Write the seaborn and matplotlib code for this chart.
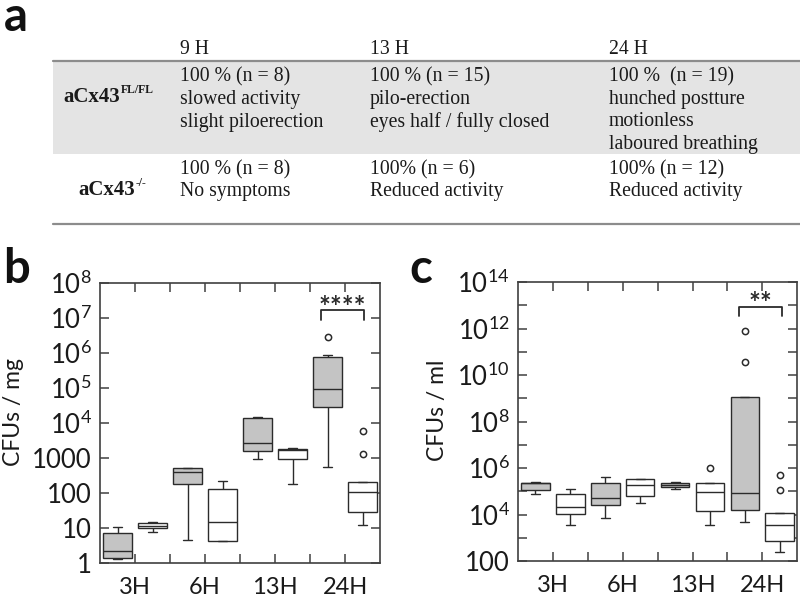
import pandas as pd
import seaborn as sns
import matplotlib.pyplot as plt
from matplotlib.ticker import FixedLocator, FixedFormatter, NullLocator, NullFormatter

# ---- panel a: symptom table ----
col_headers = ["9 H", "13 H", "24 H"]
fl_cells = [["100 % (n = 8)", "slowed activity", "slight piloerection"],
            ["100 % (n = 15)", "pilo-erection", "eyes half / fully closed"],
            ["100 %  (n = 19)", "hunched postture", "motionless", "laboured breathing"]]
ko_cells = [["100 % (n = 8)", "No symptoms"],
            ["100% (n = 6)", "Reduced activity"],
            ["100% (n = 12)", "Reduced activity"]]
row_names = ["aCx43", "aCx43"]
row_sups = ["FL/FL", "-/-"]

# ---- panels b / c: CFU counts per group ----
times = ["3H", "6H", "13H", "24H"]
genotypes = ["FL/FL", "-/-"]

# b: CFUs / mg
mg_fl_3h = [1.3, 1.36, 2.25, 7.06, 10.9]
mg_ko_3h = [7.8, 9.7, 11.5, 13.6, 14.5]
mg_fl_6h = [4.5, 181, 398, 508, 512]
mg_ko_6h = [4.3, 4.3, 14.8, 128, 225]
mg_fl_13h = [918, 1585, 2630, 13600, 14500]
mg_ko_13h = [177, 918, 1700, 1808, 1900]
mg_fl_24h = [542, 8000, 29200, 50000, 93600, 300000, 784000, 877000, 2920000]
mg_ko_24h = [11.9, 20, 28.7, 60, 107, 160, 210, 1300, 6030]

# c: CFUs / ml
ml_fl_3h = [74000, 113000, 220000, 235000, 250000]
ml_ko_3h = [3680, 10900, 21900, 74000, 121000]
ml_fl_6h = [7070, 25600, 53300, 235000, 410000]
ml_ko_6h = [32500, 62500, 193000, 327000, 330000]
ml_fl_13h = [130000, 152000, 193000, 235000, 250000]
ml_ko_13h = [3430, 13700, 96600, 220000, 1040000]
ml_fl_24h = [4760, 9000, 15600, 40000, 87500, 1e6, 1.1e9, 3.77e10, 7.8e11]
ml_ko_24h = [254, 500, 754, 2000, 3680, 7000, 11300, 110000, 500000]

mg_ticks = [1, 10, 100, 1000, 1e4, 1e5, 1e6, 1e7, 1e8]
mg_tick_labels = ["1", "10", "100", "1000", r"$10^4$", r"$10^5$", r"$10^6$", r"$10^7$", r"$10^8$"]
ml_ticks = [1e2, 1e4, 1e6, 1e8, 1e10, 1e12, 1e14]
ml_tick_labels = ["100", r"$10^4$", r"$10^6$", r"$10^8$", r"$10^{10}$", r"$10^{12}$", r"$10^{14}$"]
ml_minor = [1e3, 1e5, 1e7, 1e9, 1e11, 1e13]


def long_table(groups):
    rows = [(t, g, v) for t, g, vals in groups for v in vals]
    return pd.DataFrame(rows, columns=["time", "genotype", "cfu"])


df_mg = long_table([("3H", "FL/FL", mg_fl_3h), ("3H", "-/-", mg_ko_3h),
                    ("6H", "FL/FL", mg_fl_6h), ("6H", "-/-", mg_ko_6h),
                    ("13H", "FL/FL", mg_fl_13h), ("13H", "-/-", mg_ko_13h),
                    ("24H", "FL/FL", mg_fl_24h), ("24H", "-/-", mg_ko_24h)])
df_ml = long_table([("3H", "FL/FL", ml_fl_3h), ("3H", "-/-", ml_ko_3h),
                    ("6H", "FL/FL", ml_fl_6h), ("6H", "-/-", ml_ko_6h),
                    ("13H", "FL/FL", ml_fl_13h), ("13H", "-/-", ml_ko_13h),
                    ("24H", "FL/FL", ml_fl_24h), ("24H", "-/-", ml_ko_24h)])

sns.set_style("ticks")
plt.rcParams["font.family"] = ["Lato", "DejaVu Sans"]
plt.rcParams["mathtext.default"] = "regular"

edge = "#2b2b2b"
ink = "#1a1a1a"
fig = plt.figure(figsize=(8, 5.97), dpi=100)

# background axes in pixel coords for the table and panel letters
ax_a = fig.add_axes([0, 0, 1, 1], zorder=-1)
ax_a.set_xlim(0, 800)
ax_a.set_ylim(597, 0)
ax_a.axis("off")
ax_a.patch.set_visible(False)

ax_a.add_patch(plt.Rectangle((53, 61), 747, 93, color="#e4e4e4", lw=0))
ax_a.plot([53, 800], [61, 61], color="#8c8c8c", lw=1.6)
ax_a.plot([53, 800], [224, 224], color="#8c8c8c", lw=1.6)

serif = dict(family="Liberation Serif", fontsize=14.2, color=ink, va="baseline")
col_x = [180, 370, 609]
for x, head, fl, ko in zip(col_x, col_headers, fl_cells, ko_cells):
    ax_a.text(x, 54, head, **serif)
    for i, line in enumerate(fl):
        ax_a.text(x, 81.5 + i * 22.5, line, **serif)
    for i, line in enumerate(ko):
        ax_a.text(x, 174 + i * 22, line, **serif)

for (x, y), name, sup in zip([(63, 101.5), (78, 195)], row_names, row_sups):
    t = ax_a.text(x, y, name, family="Liberation Serif", fontsize=15, fontweight="bold",
                  va="baseline", color=ink)
    ax_a.annotate(sup, xy=(1.0, 0.0), xycoords=t, xytext=(0.5, 9.8), textcoords="offset points",
                  family="Liberation Serif", fontsize=8.5, fontweight="bold",
                  ha="left", va="baseline", color=ink)

for x, y, letter in [(4, 31, "a"), (3, 283, "b"), (409, 283, "c")]:
    ax_a.text(x, y, letter, fontsize=34, fontweight="bold", va="baseline", color="#111111")

box_kw = dict(x="time", y="cfu", hue="genotype", order=times, hue_order=genotypes,
              palette={"FL/FL": "#c4c4c4", "-/-": "white"}, saturation=1,
              width=1.0, gap=0.18, linecolor=edge, linewidth=1.0, legend=False,
              capwidths=0.13,
              flierprops=dict(marker="o", markerfacecolor="white", markeredgecolor=edge,
                              markersize=4.5, markeredgewidth=1.1))

ax_b = fig.add_axes([0.125, 0.057, 0.35, 0.469])
ax_c = fig.add_axes([0.6475, 0.0603, 0.349, 0.4673])
sns.boxplot(data=df_mg, ax=ax_b, **box_kw)
sns.boxplot(data=df_ml, ax=ax_c, **box_kw)


def style_axis(ax, ylim, major, labels, minor, ylabel, label_x):
    ax.set_yscale("log")
    ax.set_ylim(*ylim)
    ax.yaxis.set_major_locator(FixedLocator(major))
    ax.yaxis.set_major_formatter(FixedFormatter(labels))
    ax.yaxis.set_minor_locator(FixedLocator(minor) if minor else NullLocator())
    ax.yaxis.set_minor_formatter(NullFormatter())
    ax.set_xlim(-0.5, 3.5)
    ax.xaxis.set_major_locator(FixedLocator([0, 1, 2, 3]))
    ax.set_xticklabels(times)
    ax.xaxis.set_minor_locator(FixedLocator([0.5, 1.5, 2.5]))
    ax.tick_params(which="both", direction="in", top=True, right=True,
                   length=6.5, width=1.1, color="#404040")
    ax.tick_params(axis="y", labelsize=18.5, pad=6, labelcolor=ink)
    ax.tick_params(axis="x", labelsize=17, pad=10, labelcolor=ink)
    ax.set_xlabel("")
    ax.set_ylabel(ylabel, fontsize=16.5, color=ink)
    ax.yaxis.set_label_coords(label_x, 0.54)
    for s in ax.spines.values():
        s.set_color("#404040")
        s.set_linewidth(1.2)


style_axis(ax_b, (1, 1e8), mg_ticks, mg_tick_labels, None, "CFUs / mg", -0.27)
style_axis(ax_c, (1e2, 1e14), ml_ticks, ml_tick_labels, ml_minor, "CFUs / ml", -0.25)


def bracket(ax, x0, x1, y_top, y_leg, y_txt, label):
    ax.plot([x0, x0, x1, x1], [y_leg, y_top, y_top, y_leg], color=edge, lw=1.3)
    ax.text((x0 + x1) / 2, y_txt, label, ha="center", va="baseline",
            fontsize=20, fontweight="bold", color=edge)


bracket(ax_b, 2.65, 3.27, 10 ** 7.23, 10 ** 6.94, 10 ** 7.05, "****")
bracket(ax_c, 2.67, 3.28, 10 ** 12.92, 10 ** 12.54, 10 ** 12.70, "**")

fig.savefig("out.png", dpi=100)
